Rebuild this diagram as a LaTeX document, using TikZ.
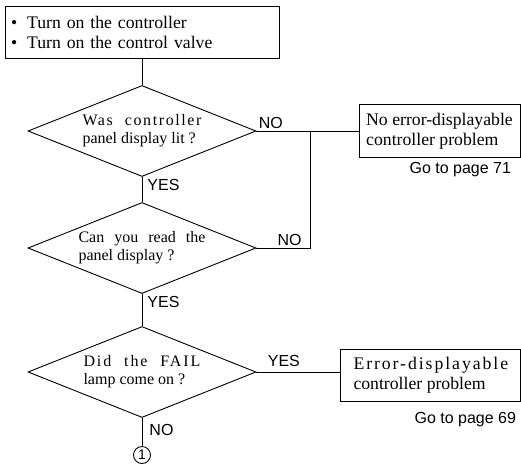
\documentclass[tikz,border=0pt]{standalone}
\usepackage{fontspec}
\setmainfont{Liberation Serif}
\setsansfont{Liberation Sans}
\usetikzlibrary{shapes.geometric}
\newcommand\spreadline[3]{\makebox[#1][s]{\addfontfeature{LetterSpace=#2}#3}}

\begin{document}
\begin{tikzpicture}[x=1pt, y=-1pt, line width=0.9pt,
	box/.style={draw, rectangle, align=left, font=\fontsize{17.7}{20}\selectfont},
	dec/.style={draw, diamond, aspect=2.5, inner sep=0pt, minimum width=228pt, minimum height=91pt, align=left, font=\fontsize{16}{18}\selectfont},
	lbl/.style={inner sep=2pt, font=\sffamily\fontsize{16}{18}\selectfont}]
	\useasboundingbox (0,0) rectangle (521,464);
	% main column
	\node[box, text width=262pt, minimum height=52pt, inner xsep=6pt] (start) at (142,32)
		{\textbullet\hspace{10pt}Turn on the controller\\\textbullet\hspace{10pt}Turn on the control valve};
	\node[dec] (d1) at (142,131) {\spreadline{119pt}{10}{Was controller}\\panel display lit ?};
	\node[dec] (d2) at (142,248) {\spreadline{127pt}{0}{Can you read the}\\panel display ?};
	\node[dec] (d3) at (142,372) {\spreadline{117pt}{12}{Did the FAIL}\\lamp come on ?};
	\node[draw, circle, inner sep=0pt, minimum size=17pt, font=\sffamily\fontsize{14}{14}\selectfont] (one) at (142,455) {1};
	% right column
	\node[box, minimum width=161pt, minimum height=53pt] (nerr) at (439.5,131) {No error-displayable\\controller problem};
	\node[box, minimum width=180pt, minimum height=52pt] (err) at (430,375.5) {\spreadline{153pt}{11}{Error-displayable}\\controller problem};
	\node[lbl, anchor=north east, xshift=-7pt, yshift=-2pt] (pg71) at (nerr.south east) {Go to page 71};
	\node[lbl, anchor=north east, xshift=-2pt, yshift=-8pt] (pg69) at (err.south east) {Go to page 69};
	\coordinate (jn) at (310,131);
	% connectors
	\draw (start.south) -- (d1.north);
	\draw (d1.south) -- (d2.north);
	\draw (d2.south) -- (d3.north);
	\draw (d3.south) -- (one.north);
	\draw (d1.east) -- (nerr.west);
	\draw (d2.east) -| (jn);
	\draw (d3.east) -- (d3.east -| err.west);
	% branch labels
	\node[lbl, anchor=south west] (no1) at (d1.east) {NO};
	\node[lbl, anchor=north west, xshift=3pt] (yes1) at (d1.south) {YES};
	\node[lbl, anchor=south east, xshift=-6pt] (no2) at (d2.east -| jn) {NO};
	\node[lbl, anchor=north west, xshift=3pt] (yes2) at (d2.south) {YES};
	\node[lbl, anchor=south west, xshift=9pt, yshift=3pt] (yes3) at (d3.east) {YES};
	\node[lbl, anchor=north west, xshift=5pt, yshift=-4pt] (no3) at (d3.south) {NO};
\end{tikzpicture}
\end{document}
